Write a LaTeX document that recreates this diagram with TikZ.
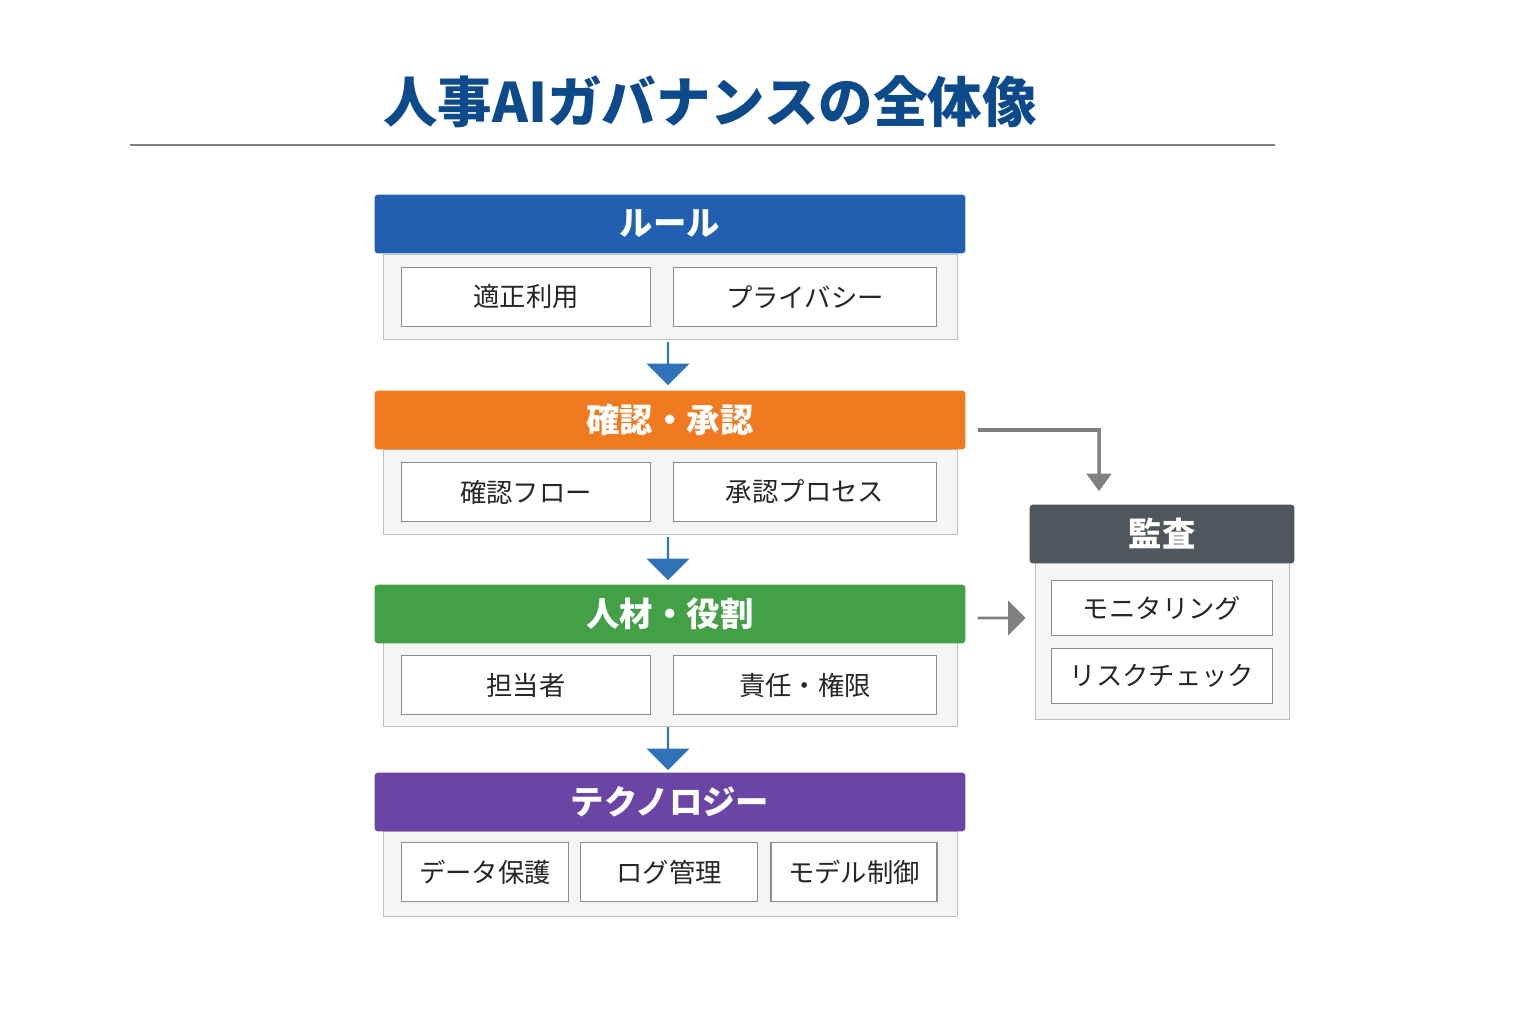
\documentclass[tikz,border=0pt]{standalone}
\usepackage{fontspec}
\setmainfont{Noto Sans CJK JP}
\usetikzlibrary{shapes.arrows,arrows.meta,positioning,calc}
\definecolor{titleblue}{HTML}{0D4A8C}
\definecolor{ruleblue}{HTML}{2160B0}
\definecolor{checkorange}{HTML}{F07A20}
\definecolor{staffgreen}{HTML}{43A047}
\definecolor{techpurple}{HTML}{6A45A5}
\definecolor{auditgray}{HTML}{50565E}
\definecolor{arrowblue}{HTML}{2F72B8}
\tikzset{
  header/.style={rectangle, rounded corners=2pt, text=white, font=\bfseries\fontsize{19}{21}\selectfont, minimum height=1.18cm},
  panel/.style={rectangle, draw=black!25, fill=black!4, minimum height=1.7cm},
  item/.style={rectangle, draw=black!45, fill=white, line width=0.8pt, font=\fontsize{15}{17}\selectfont, text=black!85, minimum height=1.17cm},
  downarrow/.style={single arrow, draw=none, fill=arrowblue, rotate=-90, minimum height=0.86cm, minimum width=0.86cm, single arrow head extend=0.12cm, inner sep=0pt},
}
\begin{document}
\begin{tikzpicture}[x=0.02cm,y=-0.02cm]
\useasboundingbox (0,0) rectangle (1536,1024);
% Title
\node[font=\bfseries\fontsize{31}{33}\selectfont, text=titleblue] (title) at (710,102) {人事AIガバナンスの全体像};
\coordinate (lineL) at (130,145);
\coordinate (lineR) at (1275,145);
\draw[black!50, line width=1pt] (lineL) -- (lineR);

% Rules
\node[panel, minimum width=11.48cm] (rulepanel) at (670,297) {};
\node[header, fill=ruleblue, minimum width=11.82cm] (rule) at (670,224) {ルール};
\node[item, minimum width=4.98cm] (fairuse) at (526,297) {適正利用};
\node[item, minimum width=5.26cm] (privacy) at (805,297) {プライバシー};

% Check and approval
\node[panel, minimum width=11.48cm] (checkpanel) at (670,492) {};
\node[header, fill=checkorange, minimum width=11.82cm] (check) at (670,420) {確認・承認};
\node[item, minimum width=4.98cm] (checkflow) at (526,492) {確認フロー};
\node[item, minimum width=5.26cm] (approval) at (805,492) {承認プロセス};

% People and roles
\node[panel, minimum width=11.48cm] (staffpanel) at (670,684) {};
\node[header, fill=staffgreen, minimum width=11.82cm] (staff) at (670,614) {人材・役割};
\node[item, minimum width=4.98cm] (owner) at (526,685) {担当者};
\node[item, minimum width=5.26cm] (authority) at (805,685) {責任・権限};

% Technology
\node[panel, minimum width=11.48cm] (techpanel) at (670,874) {};
\node[header, fill=techpurple, minimum width=11.82cm] (tech) at (670,802) {テクノロジー};
\node[item, minimum width=3.34cm] (dataprot) at (485,872) {データ保護};
\node[item, minimum width=3.54cm] (logmgmt) at (669,872) {ログ管理};
\node[item, minimum width=3.32cm] (modelctl) at (854,872) {モデル制御};

% Down arrows
\node[downarrow] (arrowA) at (668,363) {};
\node[downarrow] (arrowB) at (668,558) {};
\node[downarrow] (arrowC) at (668,748) {};

% Audit
\node[panel, minimum width=5.08cm, minimum height=3.14cm] (auditpanel) at (1162,641) {};
\node[header, fill=auditgray, minimum width=5.3cm] (audit) at (1162,534) {監査};
\node[item, minimum width=4.42cm, minimum height=1.1cm] (monitor) at (1162,608) {モニタリング};
\node[item, minimum width=4.42cm, minimum height=1.1cm] (riskcheck) at (1162,676) {リスクチェック};

% Connectors
\coordinate (bendA) at (1099,430);
\draw[black!50, line width=2pt, -{Triangle[length=10pt,width=14pt]}]
  ([xshift=0.24cm,yshift=-0.2cm]check.east) -- (bendA) -- ([yshift=0.26cm]audit.north -| bendA);
\node[single arrow, draw=none, fill=black!50, minimum height=0.96cm, minimum width=0.7cm, single arrow head extend=0.08cm, inner sep=0pt] (sidearrow) at (1001,618) {};
\end{tikzpicture}
\end{document}
